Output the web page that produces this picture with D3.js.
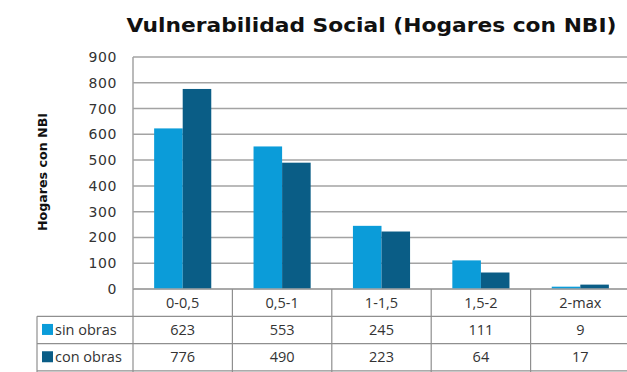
<!DOCTYPE html>
<html>
<head>
<meta charset="utf-8">
<script src="https://cdn.jsdelivr.net/npm/d3@7/dist/d3.min.js"></script>
<style>
  html, body { margin: 0; padding: 0; background: #fff; }
  svg { display: block; }
</style>
</head>
<body>
<svg id="chart" width="627" height="372"></svg>
<script>
// Household vulnerability (NBI households) by range, with and without works
const categories = ["0-0,5", "0,5-1", "1-1,5", "1,5-2", "2-max"];
const seriesNames = ["sin obras", "con obras"];
const sinObras = [623, 553, 245, 111, 9];
const conObras = [776, 490, 223, 64, 17];
const yTicks = [0, 100, 200, 300, 400, 500, 600, 700, 800, 900];
const colors = ["#0b9cd9", "#0a5d86"];

const series = [sinObras, conObras];

const svg = d3.select("#chart");
const W = 627, H = 372;
const plot = { left: 133, right: 630, top: 57, bottom: 289 };
const rowH = 27.3;
const legendLeft = 37;

const x = d3.scaleBand().domain(categories).range([plot.left, plot.right]).paddingInner(0).paddingOuter(0);
const xs = d3.scaleBand().domain(seriesNames).range([0, x.bandwidth()]).paddingInner(0).paddingOuter(0.74);
const y = d3.scaleLinear().domain([0, 900]).range([plot.bottom, plot.top]);

const gridColor = "#a3a3a3";
const textColor = "#333";

// Title
svg.append("text")
  .attr("x", 371.5).attr("y", 32)
  .attr("text-anchor", "middle")
  .attr("font-family", "DejaVu Sans, Verdana, sans-serif")
  .attr("font-weight", "bold")
  .attr("font-size", 20)
  .attr("textLength", 490)
  .attr("lengthAdjust", "spacingAndGlyphs")
  .attr("fill", "#111")
  .text("Vulnerabilidad Social (Hogares con NBI)");

// Gridlines
svg.append("g").selectAll("line").data(yTicks).join("line")
  .attr("x1", plot.left).attr("x2", W)
  .attr("y1", d => y(d)).attr("y2", d => y(d))
  .attr("stroke", gridColor).attr("stroke-width", 1.5);

// Left plot border
svg.append("line")
  .attr("x1", plot.left).attr("x2", plot.left)
  .attr("y1", plot.top).attr("y2", plot.bottom)
  .attr("stroke", gridColor).attr("stroke-width", 1.5);

// Y axis tick labels
const yAxis = d3.axisLeft(y).tickValues(yTicks).tickSize(0).tickPadding(16);
const gy = svg.append("g").attr("transform", `translate(${plot.left},0)`).call(yAxis);
gy.select(".domain").remove();
gy.selectAll("text")
  .attr("font-family", "DejaVu Sans, Verdana, sans-serif")
  .attr("font-size", 14)
  .attr("letter-spacing", 0.6)
  .attr("fill", textColor);

// Y axis title
svg.append("text")
  .attr("transform", `translate(47,172) rotate(-90)`)
  .attr("text-anchor", "middle")
  .attr("font-family", "DejaVu Sans, Verdana, sans-serif")
  .attr("font-weight", "bold")
  .attr("font-size", 11.5)
  .attr("textLength", 118)
  .attr("lengthAdjust", "spacingAndGlyphs")
  .attr("fill", "#111")
  .text("Hogares con NBI");

// Bars
const groups = svg.append("g").selectAll("g").data(categories).join("g")
  .attr("transform", d => `translate(${x(d)},0)`);
groups.selectAll("rect")
  .data((c, i) => series.map((s, k) => ({ name: seriesNames[k], value: s[i], k })))
  .join("rect")
  .attr("x", d => xs(d.name))
  .attr("width", xs.bandwidth())
  .attr("y", d => y(d.value))
  .attr("height", d => y(0) - y(d.value))
  .attr("fill", d => colors[d.k]);

// Data table under the plot
const tableColor = "#8f8f8f";
const rows = [plot.bottom, plot.bottom + rowH, plot.bottom + 2 * rowH, plot.bottom + 3 * rowH];
const tbl = svg.append("g");

// Axis / top table line
tbl.append("line")
  .attr("x1", plot.left).attr("x2", W)
  .attr("y1", rows[0]).attr("y2", rows[0])
  .attr("stroke", gridColor).attr("stroke-width", 1.5);
// Row separators
tbl.selectAll("line.row").data(rows.slice(1)).join("line")
  .attr("class", "row")
  .attr("x1", legendLeft).attr("x2", W)
  .attr("y1", d => d).attr("y2", d => d)
  .attr("stroke", tableColor).attr("stroke-width", 1.2);
// Column separators
const colEdges = categories.map(c => x(c));
tbl.selectAll("line.col").data(colEdges).join("line")
  .attr("class", "col")
  .attr("x1", d => d).attr("x2", d => d)
  .attr("y1", rows[0]).attr("y2", H)
  .attr("stroke", tableColor).attr("stroke-width", 1.2);
// Left legend border
tbl.append("line")
  .attr("x1", legendLeft).attr("x2", legendLeft)
  .attr("y1", rows[1]).attr("y2", H)
  .attr("stroke", tableColor).attr("stroke-width", 1.2);

const cellFont = "Open Sans, Liberation Sans, sans-serif";
const cellSize = 14.5;
// Category labels
tbl.selectAll("text.cat").data(categories).join("text")
  .attr("class", "cat")
  .attr("x", d => x(d) + x.bandwidth() / 2)
  .attr("y", rows[0] + rowH / 2 + 5)
  .attr("text-anchor", "middle")
  .attr("font-family", cellFont).attr("font-size", cellSize)
  .attr("fill", textColor)
  .text(d => d);

// Value rows with legend keys
series.forEach((s, k) => {
  const top = rows[k + 1];
  tbl.append("rect")
    .attr("x", 42).attr("y", top + rowH / 2 - 6)
    .attr("width", 11).attr("height", 11)
    .attr("fill", colors[k]);
  tbl.append("text")
    .attr("x", 55).attr("y", top + rowH / 2 + 5)
    .attr("font-family", cellFont).attr("font-size", cellSize)
    .attr("fill", textColor)
    .text(seriesNames[k]);
  tbl.selectAll(null).data(s).join("text")
    .attr("x", (d, i) => x(categories[i]) + x.bandwidth() / 2)
    .attr("y", top + rowH / 2 + 5)
    .attr("text-anchor", "middle")
    .attr("font-family", cellFont).attr("font-size", cellSize)
    .attr("fill", textColor)
    .text(d => d);
});
</script>
</body>
</html>
